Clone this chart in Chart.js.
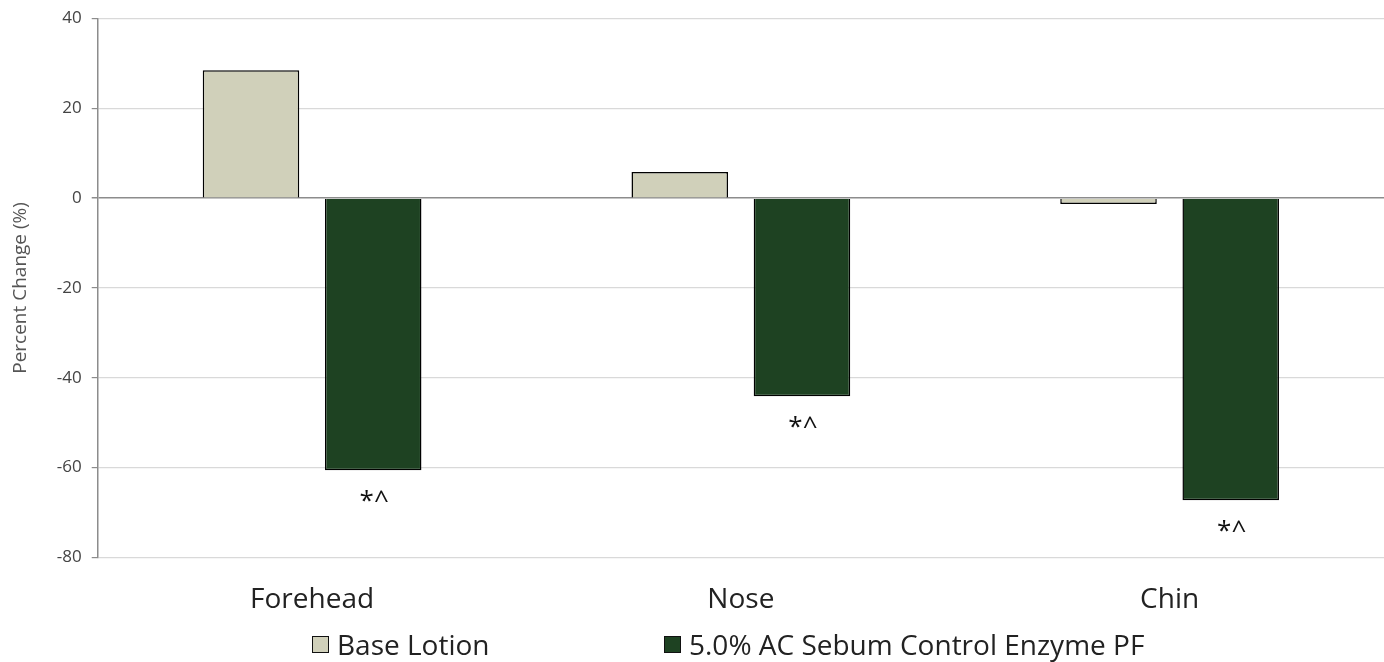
<!DOCTYPE html>
<html>
<head>
<meta charset="utf-8">
<script src="https://cdn.jsdelivr.net/npm/chart.js@4.4.1/dist/chart.umd.min.js"></script>
<style>
  html, body { margin: 0; padding: 0; background: #fff; }
  #wrap { position: relative; width: 1384px; height: 662px; }
  #c { position: absolute; left: 0; top: 0; }
  #legend { position: absolute; left: 0; top: 626px; width: 1384px; height: 36px; font-family: "Open Sans", sans-serif; font-size: 28px; color: #222; }
  .item { position: absolute; top: 0; display: flex; align-items: center; height: 36px; }
  .box { width: 15px; height: 15px; border: 1.5px solid #111; margin-right: 8px; }
</style>
</head>
<body>
<div id="wrap">
  <canvas id="c" width="1384" height="662"></canvas>
  <div id="legend"></div>
</div>
<script>
const categories = ['Forehead', 'Nose', 'Chin'];
const seriesNames = ['Base Lotion', '5.0% AC Sebum Control Enzyme PF'];
const baseLotion = [28.5, 5.8, -1.3];
const enzymePF = [-60.6, -44.1, -67.3];
const enzymeMarks = ['*^', '*^', '*^'];
const yTicks = [40, 20, 0, -20, -40, -60, -80];

const colors = ['#d0d0ba', '#1e4222'];

const markPlugin = {
  id: 'marks',
  afterDatasetsDraw(chart) {
    const ctx = chart.ctx;
    const meta = chart.getDatasetMeta(1);
    ctx.save();
    ctx.fillStyle = '#111';
    ctx.font = '26px "Open Sans", sans-serif';
    ctx.textAlign = 'center';
    ctx.textBaseline = 'middle';
    meta.data.forEach((el, i) => {
      const t = enzymeMarks[i];
      if (t) ctx.fillText(t, el.x + 1, el.y + 31);
    });
    ctx.restore();
  }
};

new Chart(document.getElementById('c'), {
  type: 'bar',
  data: {
    labels: categories,
    datasets: [
      { label: seriesNames[0], data: baseLotion, backgroundColor: colors[0], borderColor: '#000', borderWidth: 1.5 },
      { label: seriesNames[1], data: enzymePF, backgroundColor: colors[1], borderColor: '#000', borderWidth: 1.5 }
    ]
  },
  options: {
    responsive: false,
    animation: false,
    devicePixelRatio: 1,
    categoryPercentage: 0.57,
    barPercentage: 0.79,
    layout: { padding: { top: 17, right: 0, bottom: 19, left: 9 } },
    plugins: { legend: { display: false }, tooltip: { enabled: false } },
    scales: {
      x: {
        grid: { display: false, drawTicks: false },
        border: { display: false },
        ticks: { color: '#222', font: { family: '"Open Sans", sans-serif', size: 28 }, padding: 26 }
      },
      y: {
        min: -80, max: 40,
        afterBuildTicks(scale) { scale.ticks = yTicks.map(v => ({ value: v })); },
        grid: {
          color: ctx => (ctx.tick && ctx.tick.value === 0) ? '#8c8c8c' : '#d9d9d9',
          lineWidth: ctx => (ctx.tick && ctx.tick.value === 0) ? 1.5 : 1.2,
          tickColor: '#8c8c8c',
          tickLength: 6
        },
        border: { display: true, color: '#8c8c8c', width: 1.5 },
        ticks: { color: '#444', font: { family: '"Open Sans", sans-serif', size: 17, lineHeight: 1.0 }, padding: 10 },
        title: { display: true, text: 'Percent Change (%)', color: '#555', font: { family: '"Open Sans", sans-serif', size: 19 }, padding: { top: 0, bottom: 15 } }
      }
    }
  },
  plugins: [markPlugin]
});

const legendEl = document.getElementById('legend');
const legendX = [312, 664];
seriesNames.forEach((n, i) => {
  const d = document.createElement('div');
  d.className = 'item';
  d.style.left = legendX[i] + 'px';
  const b = document.createElement('span');
  b.className = 'box';
  b.style.background = colors[i];
  const s = document.createElement('span');
  s.textContent = n;
  d.appendChild(b); d.appendChild(s);
  legendEl.appendChild(d);
});
</script>
</body>
</html>
